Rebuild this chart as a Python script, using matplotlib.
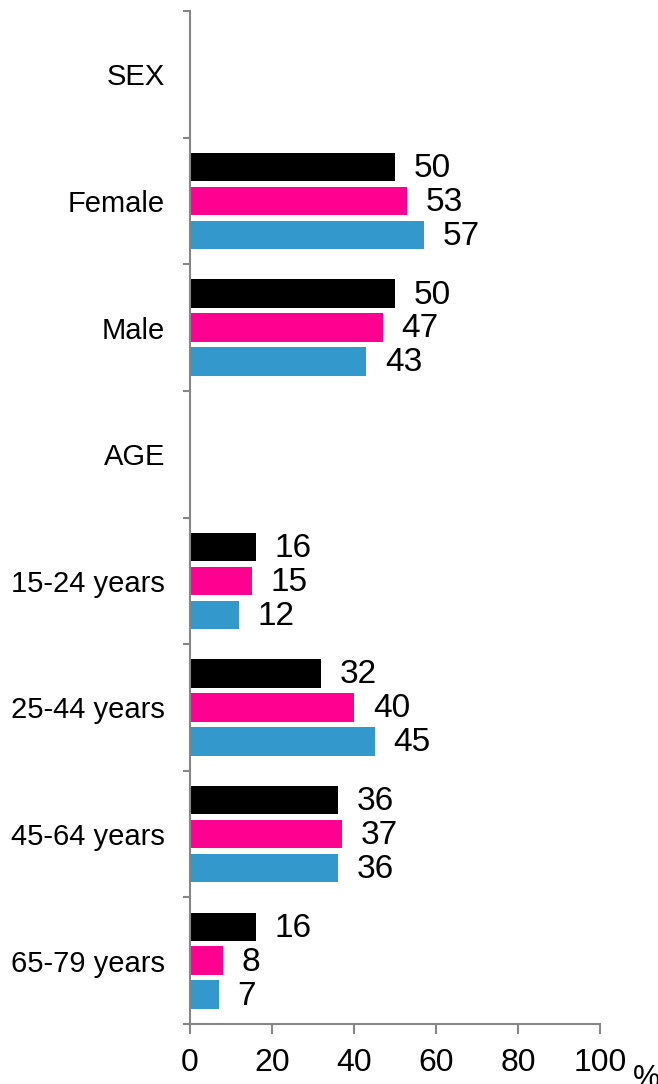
import numpy as np
import matplotlib
matplotlib.use('Agg')
import matplotlib.pyplot as plt

plt.rcParams['font.family'] = ['Liberation Sans', 'DejaVu Sans']

categories = ['SEX', 'Female', 'Male', 'AGE', '15-24 years', '25-44 years',
              '45-64 years', '65-79 years']
# NaN = heading row without bars
black_vals = [np.nan, 50, 50, np.nan, 16, 32, 36, 16]
pink_vals = [np.nan, 53, 47, np.nan, 15, 40, 37, 8]
blue_vals = [np.nan, 57, 43, np.nan, 12, 45, 36, 7]
xticks = [0, 20, 40, 60, 80, 100]

colors = ['#000000', '#FF0090', '#3399CC']
series = [black_vals, pink_vals, blue_vals]

fig = plt.figure(figsize=(6.58, 10.84), dpi=100)
ax = fig.add_axes([190/658, 60/1084, 410/658, 1013/1084])

pos = np.arange(len(categories))
pitch = 0.268
h = 0.225
for k, (vals, c) in enumerate(zip(series, colors)):
    vals = np.array(vals, dtype=float)
    ok = ~np.isnan(vals)
    y = pos[ok] + (k - 1) * pitch
    ax.barh(y, vals[ok], height=h, color=c)
    for yy, v in zip(y, vals[ok]):
        ax.annotate('%d' % v, (v, yy), xytext=(13.5, -1), textcoords='offset points',
                    ha='left', va='center', fontsize=24)

ax.set_xlim(0, 100)
ax.set_ylim(len(categories) - 0.5, -0.5)
ax.set_xticks(xticks)
ax.set_xticklabels([str(t) for t in xticks], fontsize=23)
ax.set_yticks(pos)
ax.set_yticklabels(categories, fontsize=21)
ax.set_yticks(np.arange(len(categories) + 1) - 0.5, minor=True)

for s in ['top', 'right']:
    ax.spines[s].set_visible(False)
for s in ['left', 'bottom']:
    ax.spines[s].set_color('#868686')
    ax.spines[s].set_linewidth(1.5)

ax.tick_params(axis='x', direction='out', length=7, width=1.5, color='#868686', pad=10)
ax.tick_params(axis='y', which='major', length=0, pad=18)
ax.tick_params(axis='y', which='minor', direction='out', length=5, width=1.5,
               color='#868686')

fig.text(633/658, 1 - 1064/1084, '%', ha='left', va='top', fontsize=22)

plt.savefig('out.png', dpi=100)
